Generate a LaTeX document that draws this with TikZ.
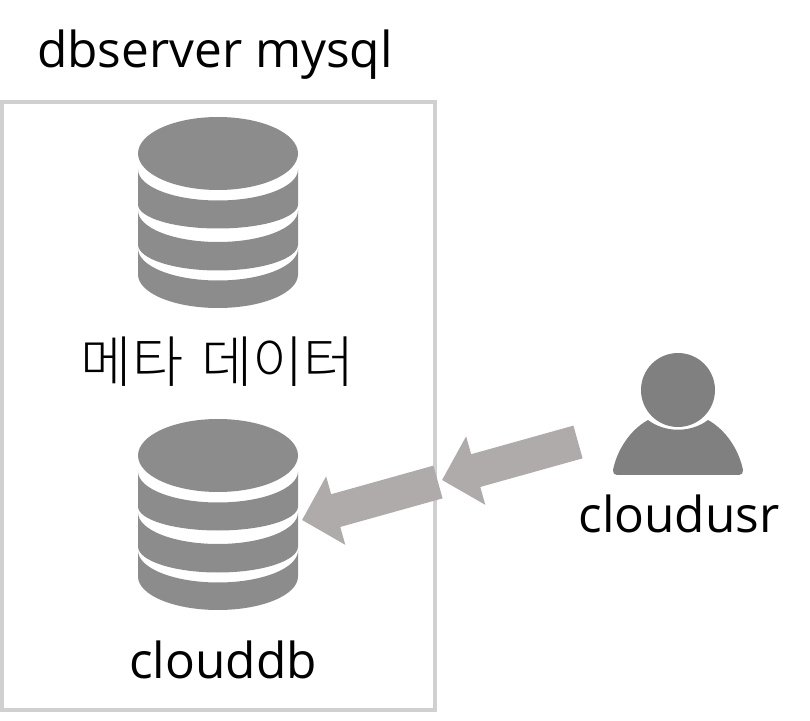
\documentclass[tikz,border=0pt]{standalone}
\usepackage{fontspec}
\setmainfont{Open Sans}
\newfontfamily\krfont{Noto Sans CJK KR Light}
\definecolor{framegray}{RGB}{208, 208, 208}
\definecolor{dbgray}{RGB}{140, 140, 140}
\definecolor{usrgray}{RGB}{128, 128, 128}
\definecolor{flowgray}{RGB}{175, 171, 171}
\usetikzlibrary{arrows.meta, positioning}
\tikzset{
  lbl/.style={font=\fontsize{42.3}{50}\selectfont, text=black, inner sep=0pt, anchor=base},
  flow/.style={draw=flowgray, line width=1.02cm, -{Triangle[length=1.05cm, width=2.07cm]}},
  pics/dbicon/.style={code={
    \fill[dbgray] (0, 0) ellipse [x radius=80, y radius=36.5];
    \fill[dbgray] (-80, -16) arc [start angle=180, end angle=360, x radius=80, y radius=31]
      -- (80, -51) arc [start angle=0, end angle=-180, x radius=80, y radius=24] -- cycle;
    \fill[dbgray] (-80, -57) arc [start angle=180, end angle=360, x radius=80, y radius=31.5]
      -- (80, -91) arc [start angle=0, end angle=-180, x radius=80, y radius=26] -- cycle;
    \fill[dbgray] (-80, -95) arc [start angle=180, end angle=360, x radius=80, y radius=32]
      -- (80, -121) arc [start angle=0, end angle=-180, x radius=80, y radius=33.5] -- cycle;
  }}
}

\begin{document}
\begin{tikzpicture}[x=0.03cm, y=0.03cm]
  \useasboundingbox (0, 0) rectangle (810, 720);

  % Server box
  \draw[framegray, line width=0.14cm] (2, 618) rectangle (435, 10);
  \node[lbl] (title) at (215, 652) {dbserver mysql};

  % Databases
  \pic at (218, 566.5) {dbicon};
  \node[lbl, font=\fontsize{47.5}{56}\selectfont, anchor=center] (meta) at (218, 358.5) {\krfont 메타\hspace{5pt} 데이터};
  \pic at (218, 264.5) {dbicon};
  \node[lbl] (clouddb) at (223, 42) {clouddb};

  % User
  \coordinate (usr) at (678, 330);
  \fill[usrgray] (usr) circle [radius=37];
  \fill[usrgray] (617, 245) .. controls (614, 245) and (613, 247) .. (613, 250)
    .. controls (617, 270) and (630, 290) .. (648, 300)
    .. controls (665, 287) and (691, 287) .. (708, 300)
    .. controls (726, 290) and (739, 270) .. (743, 250)
    .. controls (743, 247) and (742, 245) .. (739, 245) -- cycle;
  \node[lbl] (cloudusr) at (679, 188) {cloudusr};

  % Arrows
  \coordinate (usrtail) at (578, 278);
  \coordinate (midtip) at (442, 240);
  \coordinate (midtail) at (438, 238);
  \coordinate (dbtip) at (302, 200);
  \draw[flow] (usrtail) -- (midtip);
  \draw[flow] (midtail) -- (dbtip);
\end{tikzpicture}
\end{document}
